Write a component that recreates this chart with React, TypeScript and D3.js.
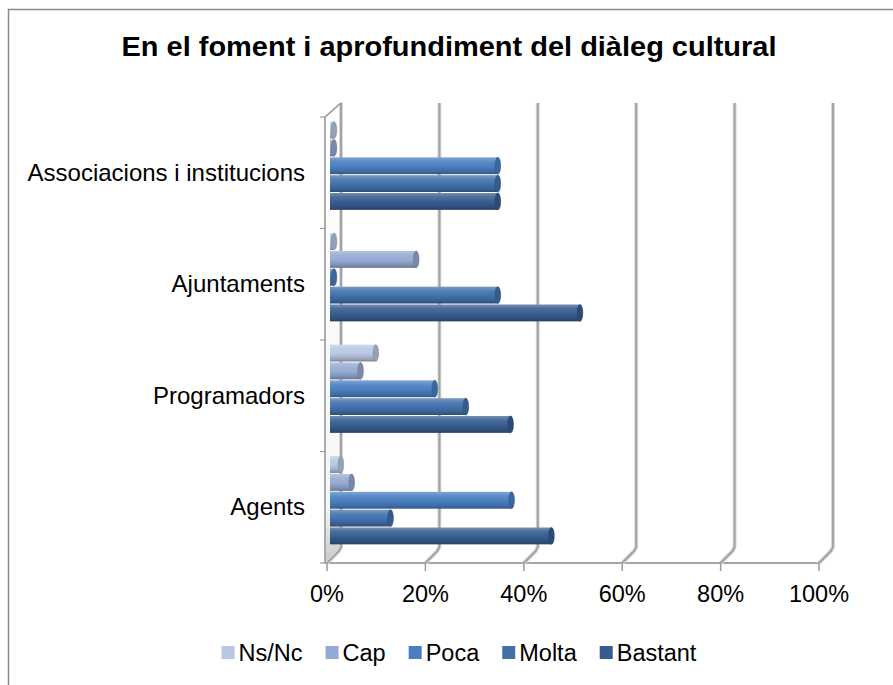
import React from "react";
import * as d3 from "d3";

const title = "En el foment i aprofundiment del diàleg cultural";
const categories = ["Associacions i institucions", "Ajuntaments", "Programadors", "Agents"];
const seriesNames = ["Ns/Nc", "Cap", "Poca", "Molta", "Bastant"];
const nsnc = [0, 0, 8.5, 1.4];
const cap = [0, 16.7, 5.4, 3.6];
const poca = [33.3, 0, 20.5, 36.1];
const molta = [33.3, 33.3, 26.8, 11.5];
const bastant = [33.3, 50.0, 35.9, 44.2];
const seriesColors = ["#b9c7e2", "#95aad3", "#4a7fc1", "#4171ab", "#375d90"];
const ticks = [0, 0.2, 0.4, 0.6, 0.8, 1];

const W = 893;
const H = 685;
const FONT = "'Liberation Sans', Arial, sans-serif";

function measure(text: string, font: string): number {
  const c = document.createElement("canvas").getContext("2d");
  if (!c) return text.length * 12;
  c.font = font;
  return c.measureText(text).width;
}

export default function App() {
  const values = [nsnc, cap, poca, molta, bastant];
  const left = 327, right = 819, top = 117, floor = 563;
  const dx = 14, dy = -14;
  const x = d3.scaleLinear().domain([0, 1]).range([left, right]);
  const yFront = d3.scaleBand<string>().domain(categories).range([top, floor]);
  const yBars = d3
    .scaleBand<string>()
    .domain(categories)
    .range([top + dy / 2, floor + dy / 2])
    .paddingInner(0.2)
    .paddingOuter(0.1);
  const yInner = d3.scaleBand<string>().domain(seriesNames).range([0, yBars.bandwidth()]);
  const bh = yInner.bandwidth();

  // legend layout
  const legFont = `23.5px ${FONT}`;
  const sq = 13, sqGap = 4, itemGap = 23;
  const widths = seriesNames.map((s) => sq + sqGap + measure(s, legFont));
  const total = d3.sum(widths) + itemGap * (seriesNames.length - 1);
  let cur = 459 - total / 2;
  const legX = widths.map((w) => {
    const v = cur;
    cur += w + itemGap;
    return v;
  });

  const gridColor = "#a3a3a3";

  return (
    <svg
      width={W}
      height={H}
      style={{ position: "absolute", left: 0, top: 0, background: "#fff" }}
      fontFamily={FONT}
    >
      <defs>
        {seriesColors.map((c, i) => {
          const col = d3.color(c)!;
          return (
            <linearGradient key={i} id={`g${i}`} x1="0" y1="0" x2="0" y2="1">
              <stop offset="0" stopColor={d3.interpolateRgb(c, "#fff")(0.3)} />
              <stop offset="0.25" stopColor={d3.interpolateRgb(c, "#fff")(0.1)} />
              <stop offset="0.55" stopColor={c} />
              <stop offset="0.85" stopColor={col.darker(0.5).toString()} />
              <stop offset="1" stopColor={col.darker(1.1).toString()} />
            </linearGradient>
          );
        })}
        <linearGradient id="wall" x1="0" y1="0" x2="0" y2="1">
          <stop offset="0" stopColor="#ffffff" />
          <stop offset="0.88" stopColor="#f6f6f6" />
          <stop offset="1" stopColor="#c8c8c8" />
        </linearGradient>
      </defs>
      <rect x={8.5} y={9.5} width={W + 20} height={H + 20} fill="#fff" stroke="#8a8a8a" strokeWidth={1.5} />
      <text
        x={449}
        y={56}
        textAnchor="middle"
        fontWeight="bold"
        fontSize={27.5}
        textLength={655}
        lengthAdjust="spacingAndGlyphs"
        fill="#000"
      >
        {title}
      </text>

      {/* left wall */}
      <polygon
        points={`${left - 2},${top} ${left + dx},${top + dy} ${left + dx},${floor + dy} ${left - 2},${floor}`}
        fill="url(#wall)"
        stroke="#b5b5b5"
        strokeWidth={1.2}
      />
      <line x1={left - 2} y1={floor} x2={right} y2={floor} stroke="#a6a6a6" strokeWidth={2} />

      {/* gridlines */}
      {ticks.map((t) => {
        const fx = x(t);
        const pts = `${fx},${floor} ${fx + dx - 2},${floor + dy + 2} ${fx + dx},${floor + dy - 2} ${fx + dx},${top + dy}`;
        return (
          <g key={t}>
            <polyline points={pts} fill="none" stroke="#dadada" strokeWidth={4} />
            <polyline points={pts} fill="none" stroke={gridColor} strokeWidth={2} />
            <line x1={fx} y1={floor} x2={fx} y2={floor + 8} stroke="#9a9a9a" strokeWidth={1.5} />
            <text x={fx} y={602} textAnchor="middle" fontSize={23.5} fill="#000">
              {`${Math.round(t * 100)}%`}
            </text>
          </g>
        );
      })}
      <line x1={left - 2} y1={top} x2={left + dx} y2={top + dy} stroke="#9a9a9a" strokeWidth={1.5} />
      <line x1={left - 2} y1={top} x2={left - 2} y2={floor} stroke="#a0a0a0" strokeWidth={1.5} />

      {/* category ticks and labels */}
      {categories.map((c) => {
        const y0 = yFront(c)!;
        return (
          <g key={c}>
            <line x1={left - 7} y1={y0} x2={left - 2} y2={y0} stroke="#9a9a9a" strokeWidth={1.2} />
            <text x={305} y={y0 + yFront.bandwidth() / 2 + 8} textAnchor="end" fontSize={24} fill="#000">
              {c}
            </text>
          </g>
        );
      })}
      <line x1={left - 7} y1={floor} x2={left - 2} y2={floor} stroke="#9a9a9a" strokeWidth={1.2} />

      {/* bars */}
      {categories.map((c, ci) =>
        seriesNames.map((s, si) => {
          const v = values[si][ci] / 100;
          const yy = yBars(c)! + yInner(s)!;
          const x0 = left + 3;
          const x1 = x(v) + dx / 2;
          const rx = 2.8;
          const col = d3.color(seriesColors[si])!;
          return (
            <g key={`${c}-${s}`}>
              {x1 > x0 && (
                <rect x={x0} y={yy + 0.5} width={x1 - x0} height={bh - 1} fill={`url(#g${si})`} />
              )}
              <ellipse
                cx={x1}
                cy={yy + bh / 2}
                rx={rx}
                ry={(bh - 1) / 2}
                fill={col.darker(0.6).toString()}
                stroke={col.darker(1).toString()}
                strokeWidth={0.6}
              />
            </g>
          );
        })
      )}

      {/* legend */}
      {seriesNames.map((s, i) => (
        <g key={s}>
          <rect x={legX[i]} y={646} width={sq} height={sq} fill={seriesColors[i]} />
          <text x={legX[i] + sq + sqGap} y={661} fontSize={23.5} fill="#000">
            {s}
          </text>
        </g>
      ))}
    </svg>
  );
}
